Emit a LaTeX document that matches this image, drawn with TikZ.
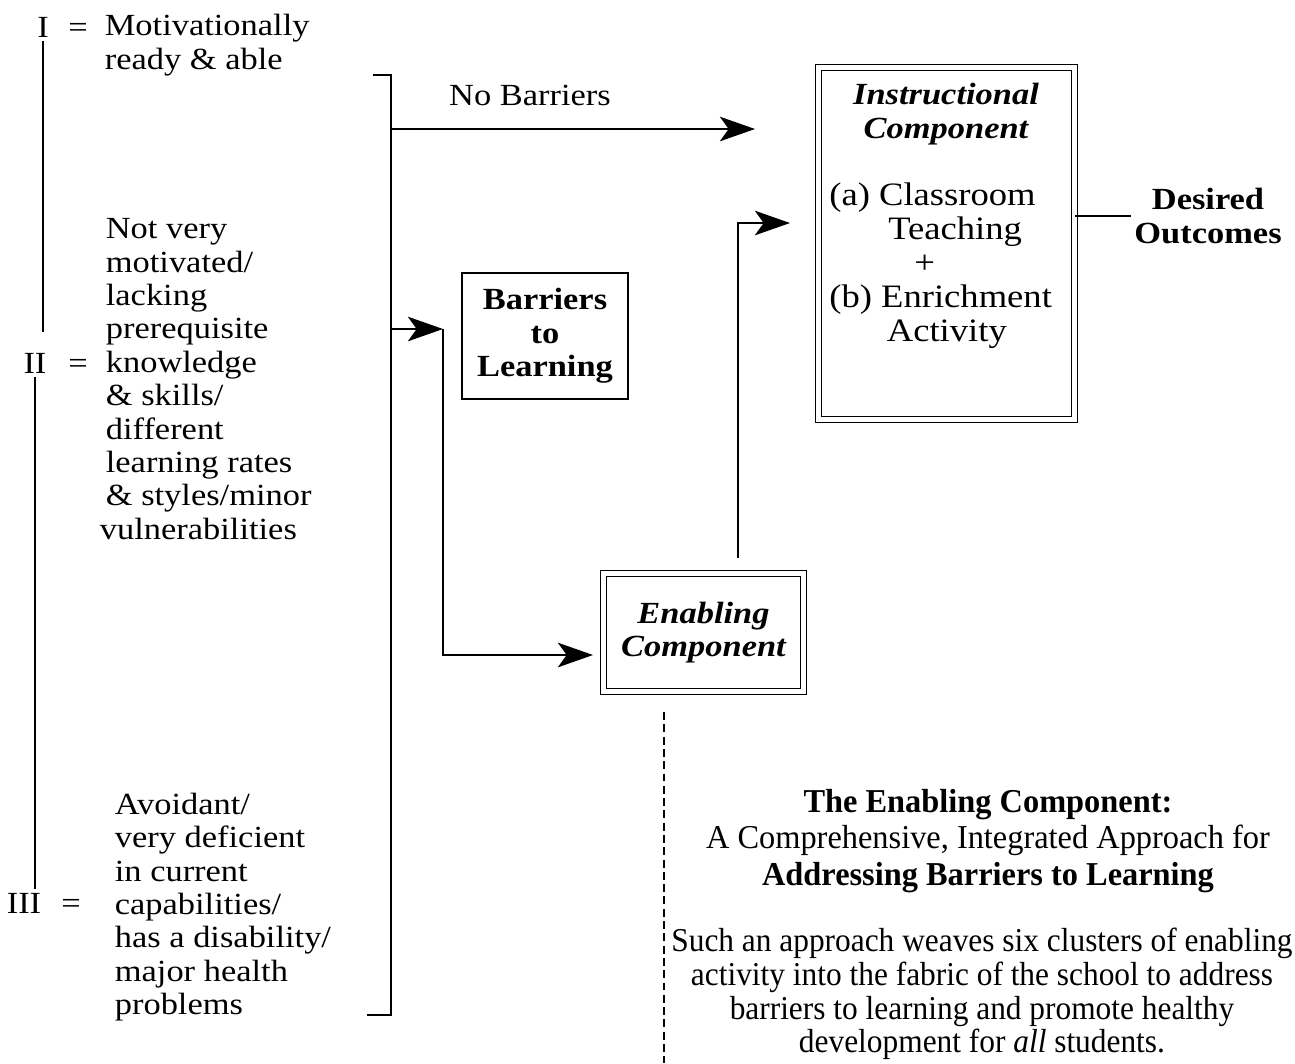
\documentclass[tikz,border=0pt]{standalone}
\usepackage{fontspec}
\setmainfont[FakeStretch=1.12]{Liberation Serif}
\newfontfamily\narrowserif[FakeStretch=0.97]{Liberation Serif}
\newfontfamily\narrowerserif[FakeStretch=0.94]{Liberation Serif}
\usetikzlibrary{positioning, calc, arrows.meta}
\tikzset{% styles used by the picture
	txt/.style={font=\fontsize{17.5}{19}\selectfont, inner sep=2pt},
	blocktxt/.style={txt, align=left, anchor=west},
	boxsingle/.style={draw, line width=1.2pt, txt, font=\fontsize{17.5}{19}\selectfont\bfseries, align=center},
	boxdouble/.style={draw, line width=0.8pt, double, double distance=2.4pt, txt, align=center},
	thinline/.style={line width=0.9pt},
	levelline/.style={line width=1.2pt},
	bigarrow/.style={-{Stealth[length=20pt,width=14pt,inset=5pt]}, line width=1pt},
	dashline/.style={line width=0.8pt, dash pattern=on 4.5pt off 2.5pt},
	notetxt/.style={font=\narrowserif\fontsize{19}{21}\selectfont, align=center},
}

\begin{document}
\begin{tikzpicture}[x=0.02cm, y=-0.02cm]
	\clip (0,0) rectangle (1295,1063);

	% the three levels of students
	\node[txt, anchor=base] (lvI) at (43,37) {I};
	\node[txt, anchor=base] (eqI) at (78,37) {=};
	\node[blocktxt] (txtI) at (101,45) {Motivationally\\ready \& able};

	\node[txt, anchor=base] (lvII) at (35,373) {II};
	\node[txt, anchor=base] (eqII) at (78,373) {=};
	\node[blocktxt] (txtII) at (102,379) {Not very\\motivated/\\lacking\\prerequisite\\knowledge\\\& skills/\\different\\learning rates\\\& styles/minor\\\hspace*{-0.12cm}vulnerabilities};

	\node[txt, anchor=base] (lvIII) at (24,913) {III};
	\node[txt, anchor=base] (eqIII) at (71,913) {=};
	\node[blocktxt] (txtIII) at (111,907) {Avoidant/\\very deficient\\in current\\capabilities/\\has a disability/\\major health\\problems};

	\draw[levelline, shorten >=0.34cm] (lvI.south) -- (lvI.south |- lvII.north);
	\draw[levelline] (lvII.south) -- (lvII.south |- lvIII.north);

	% bracket
	\coordinate (brtop) at (391,75);
	\coordinate (brtopend) at (373,75);
	\coordinate (brbot) at (391,1015);
	\coordinate (brbotend) at (367,1015);
	\draw[levelline] (brtopend) -- (brtop) -- (brbot) -- (brbotend);

	% boxes
	\node[boxsingle, minimum width=3.33cm, minimum height=2.53cm] (barriers) at (545,336) {Barriers\\to\\Learning};
	\node[boxdouble, minimum width=4cm, minimum height=2.36cm, font=\fontsize{17.5}{19}\selectfont\bfseries\itshape] (enabling) at (703.5,632.5) {Enabling\\Component};
	\node[boxdouble, minimum width=5.12cm, minimum height=7.04cm] (instr) at (946.5,243.5) {};
	\node[txt, font=\fontsize{17.5}{19}\selectfont\bfseries\itshape, align=center] (instrtitle) at (946,114) {Instructional\\Component};
	\node[txt, align=left, anchor=west, inner sep=0pt, font=\fontsize{18.6}{19.4}\selectfont] (instrbody) at (829,266) {(a) Classroom\\\hspace*{1.18cm}Teaching\\\hspace*{1.7cm}+\\(b) Enrichment\\\hspace*{1.15cm}Activity};
	\node[txt, font=\fontsize{17.5}{19}\selectfont\bfseries, align=center] (desired) at (1208,216) {Desired\\Outcomes};

	% connectors
	\coordinate (nbstart) at (391,129);
	\coordinate (nbtip) at (755,129);
	\draw[bigarrow] (nbstart) -- (nbtip);
	\node[txt] (nblabel) at (530,95) {No Barriers};

	\coordinate (bastart) at (391,329);
	\coordinate (bajoint) at (443,329);
	\coordinate (encorner) at (443,655);
	\coordinate (entip) at (593,655);
	\draw[bigarrow] (bastart) -- (bajoint);
	\draw[bigarrow] (bajoint) -- (encorner) -- (entip);

	\coordinate (upstart) at (738,558);
	\coordinate (upcorner) at (738,223);
	\coordinate (uptip) at (790,223);
	\draw[bigarrow] (upstart) -- (upcorner) -- (uptip);

	\draw[thinline] (instr.east |- desired.west) -- (desired.west);

	% note on the enabling component
	\coordinate (dashtop) at (664,712);
	\coordinate (dashbot) at (664,1063);
	\draw[dashline] (dashtop) -- (dashbot);
	\node[notetxt] (notetitle) at (988,841) {\textbf{The Enabling Component:}\\A Comprehensive, Integrated Approach for\\\textbf{Addressing Barriers to Learning}};
	\node[notetxt, font=\narrowerserif\fontsize{19}{19.2}\selectfont] (notebody) at (982,994) {Such an approach weaves six clusters of enabling\\activity into the fabric of the school to address\\barriers to learning and promote healthy\\development for \textit{all} students.};
\end{tikzpicture}
\end{document}
